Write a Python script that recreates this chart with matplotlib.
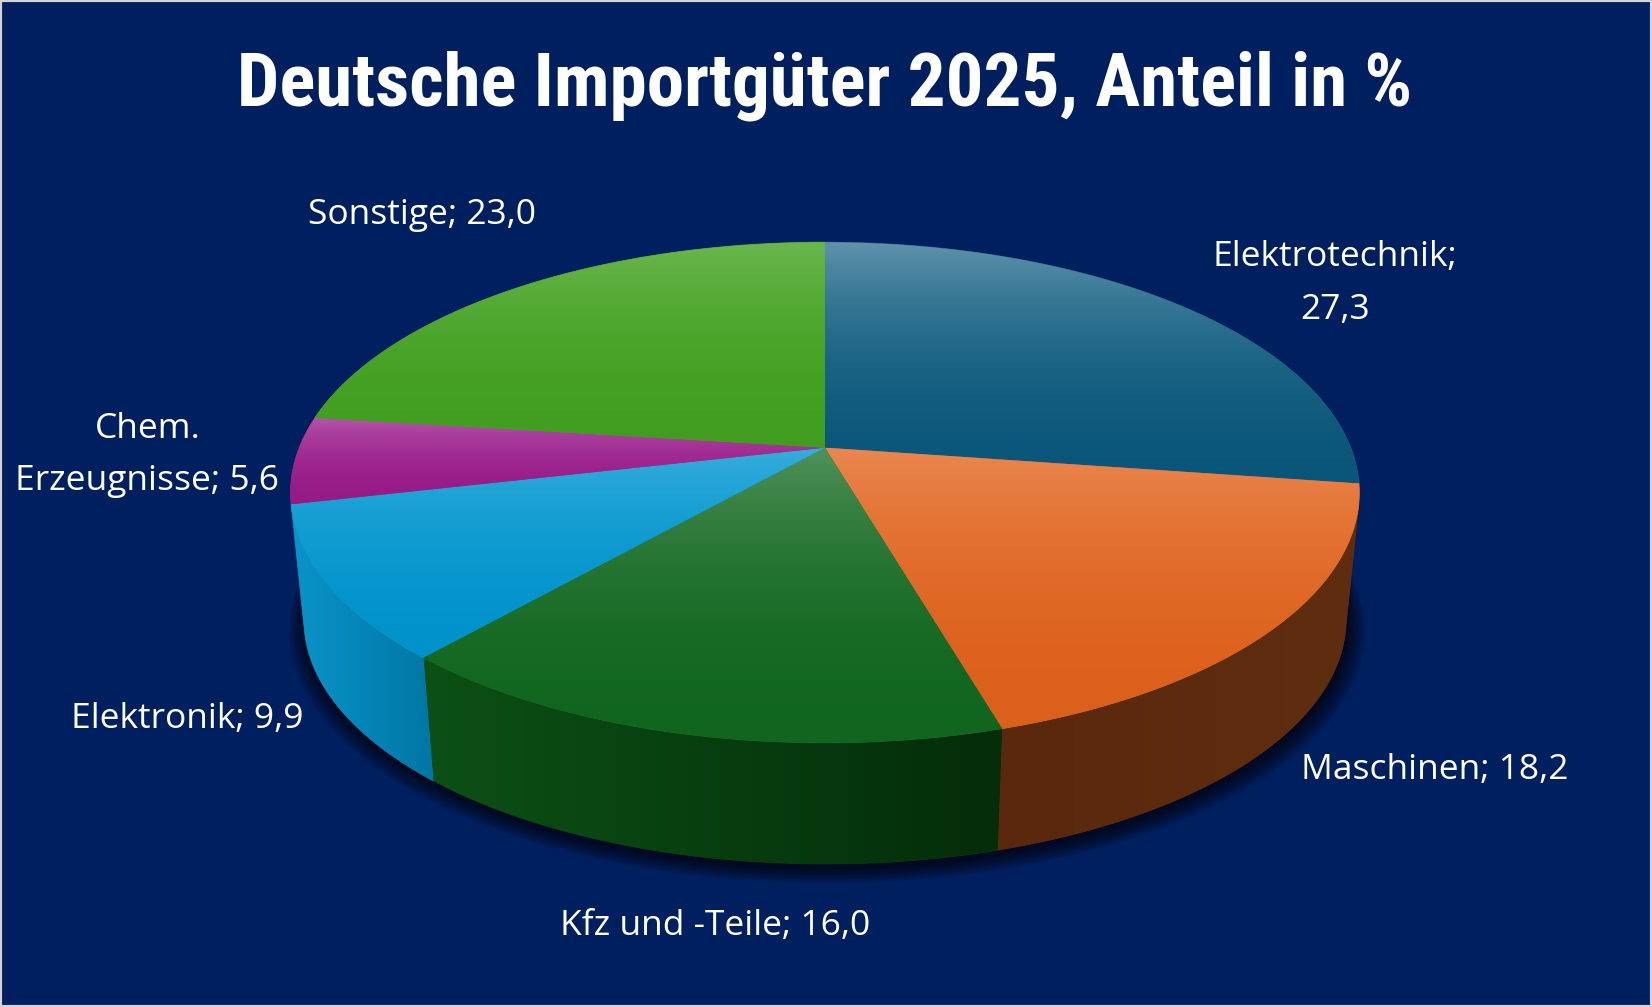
import numpy as np
import matplotlib
matplotlib.use('Agg')
import matplotlib.pyplot as plt
from matplotlib.patches import Polygon, Rectangle
from matplotlib.colors import to_rgb

# ---------------- data ----------------
title = 'Deutsche Importgüter 2025, Anteil in %'
categories = ['Elektrotechnik', 'Maschinen', 'Kfz und -Teile', 'Elektronik',
              'Chem.\nErzeugnisse', 'Sonstige']
values = [27.3, 18.2, 16.0, 9.9, 5.6, 23.0]
label_texts = ['Elektrotechnik;\n27,3', 'Maschinen; 18,2', 'Kfz und -Teile; 16,0',
               'Elektronik; 9,9', 'Chem.\nErzeugnisse; 5,6', 'Sonstige; 23,0']

# ---------------- styles ----------------
top_colors = ['#0b5a7f', '#e3641d', '#126a20', '#0298d2', '#9c1c8c', '#44a421']
top_light = [0.34, 0.22, 0.26, 0.20, 0.25, 0.20]
side_left = ['#08415c', '#5a280c', '#0c5015', '#0a93c9', '#651260', '#2e6e18']
side_right = ['#063550', '#5f2d10', '#042d09', '#0077a5', '#5a0f55', '#2a6516']
BG = '#001f5e'

# label anchor positions (layout, reference pixel space)
label_pos = [(1267, 269), (1362, 731), (679, 879), (178, 683), (140, 432), (401, 204)]

# ---------------- geometry (perspective pie) ----------------
W, H = 1568, 956
CX, CY = 783.0, 425.0
SX, SY, K = 499.0, 230.0, 0.179
CYB, SB = 547.0, 0.975


def p_top(theta, r=1.0):
    th = np.radians(theta)
    u = r * np.sin(th)
    v = r * np.cos(th)
    w = 1 + K * v
    return CX + SX * u / w, CY - SY * v / w


def p_bot(theta, r=1.0):
    th = np.radians(theta)
    u = r * np.sin(th)
    v = r * np.cos(th)
    w = 1 + K * v
    return CX + SB * SX * u / w, CYB - SB * SY * v / w


def mix(c, other, f):
    c = np.array(to_rgb(c))
    o = np.array(to_rgb(other))
    return c * (1 - f) + o * f


fig = plt.figure(figsize=(16.52, 10.07), dpi=100)
fig.patch.set_facecolor(BG)
ax = fig.add_axes([0, 0, 1, 1])
ax.set_xlim(0, W)
ax.set_ylim(H, 0)
ax.axis('off')
ax.set_facecolor(BG)


def grad_fill(pts, colors, vertical=True, z=2):
    pts = np.asarray(pts)
    x0, y0 = pts[:, 0].min(), pts[:, 1].min()
    x1, y1 = pts[:, 0].max(), pts[:, 1].max()
    mid = colors[len(colors) // 2]
    base = Polygon(pts, closed=True, facecolor=mid, edgecolor=mid, lw=0.6, zorder=z)
    ax.add_patch(base)
    arr = np.array(colors)
    if vertical:
        img = np.repeat(arr[:, None, :], 2, axis=1)
    else:
        img = np.repeat(arr[None, :, :], 2, axis=0)
    im = ax.imshow(img, extent=(x0, x1, y1, y0), origin='upper', aspect='auto',
                   interpolation='bilinear', zorder=z + 0.1)
    clip = Polygon(pts, closed=True, facecolor='none', edgecolor='none',
                   transform=ax.transData)
    ax.add_patch(clip)
    im.set_clip_path(clip)


# shadow below the pie
th_all = np.linspace(0, 360, 721)
for i in range(10):
    f = 1.0 + 0.0035 * i
    bx, by = p_bot(th_all, f)
    pts = np.column_stack([bx + 2, by + 4 + 0.4 * i])
    ax.add_patch(Polygon(pts, closed=True, facecolor='black', edgecolor='none',
                         alpha=0.09, zorder=1))

# angles
total = sum(values)
bounds = np.concatenate([[0], np.cumsum(values)]) / total * 360.0

# side walls
step = 0.25
for i in range(len(values)):
    a, b = bounds[i], bounds[i + 1]
    ths = np.arange(a, b + 1e-9, step)
    if ths[-1] < b:
        ths = np.append(ths, b)
    tx, ty = p_top(ths)
    bx, by = p_bot(ths)
    vis = []
    for j in range(len(ths) - 1):
        q = np.array([[tx[j], ty[j]], [tx[j + 1], ty[j + 1]],
                      [bx[j + 1], by[j + 1]], [bx[j], by[j]]])
        area = 0.5 * np.sum(q[:, 0] * np.roll(q[:, 1], -1) - np.roll(q[:, 0], -1) * q[:, 1])
        vis.append(area < 0)
    vis = np.array(vis)
    j = 0
    while j < len(vis):
        if vis[j]:
            k = j
            while k < len(vis) and vis[k]:
                k += 1
            idx = np.arange(j, k + 1)
            top_pts = np.column_stack([tx[idx], ty[idx]])
            bot_pts = np.column_stack([bx[idx], by[idx]])[::-1]
            pts = np.vstack([top_pts, bot_pts])
            cols = [mix(side_left[i], side_right[i], t) for t in np.linspace(0, 1, 32)]
            grad_fill(pts, cols, vertical=False, z=2)
            j = k
        else:
            j += 1

# top faces
for i in range(len(values)):
    a, b = bounds[i], bounds[i + 1]
    ths = np.linspace(a, b, max(int((b - a) / 0.25), 4))
    tx, ty = p_top(ths)
    pts = np.vstack([[CX, CY], np.column_stack([tx, ty])])
    cols = []
    for t in np.linspace(0, 1, 48):
        f = top_light[i] * (1 - t) ** 2.2
        c = mix(top_colors[i], '#ffffff', f)
        c = c * (1 - 0.04 * t)
        cols.append(c)
    grad_fill(pts, cols, vertical=True, z=4)

# labels
for txt, (lx, ly) in zip(label_texts, label_pos):
    ax.text(lx, ly, txt, ha='center', va='center', color='white',
            fontsize=25.5, family=['Open Sans', 'DejaVu Sans'], linespacing=1.72,
            zorder=10)

# title
ax.text(783, 100, title, ha='center', va='baseline', color='white',
        fontsize=54, fontweight='black',
        family=['Roboto Condensed', 'Roboto', 'DejaVu Sans'], zorder=10)

# border
ax.add_patch(Rectangle((0, 0), W, H, facecolor='none', edgecolor='#d4d4d4',
                       lw=3, zorder=20, clip_on=False))

fig.savefig('out.png', dpi=100, facecolor=BG)
